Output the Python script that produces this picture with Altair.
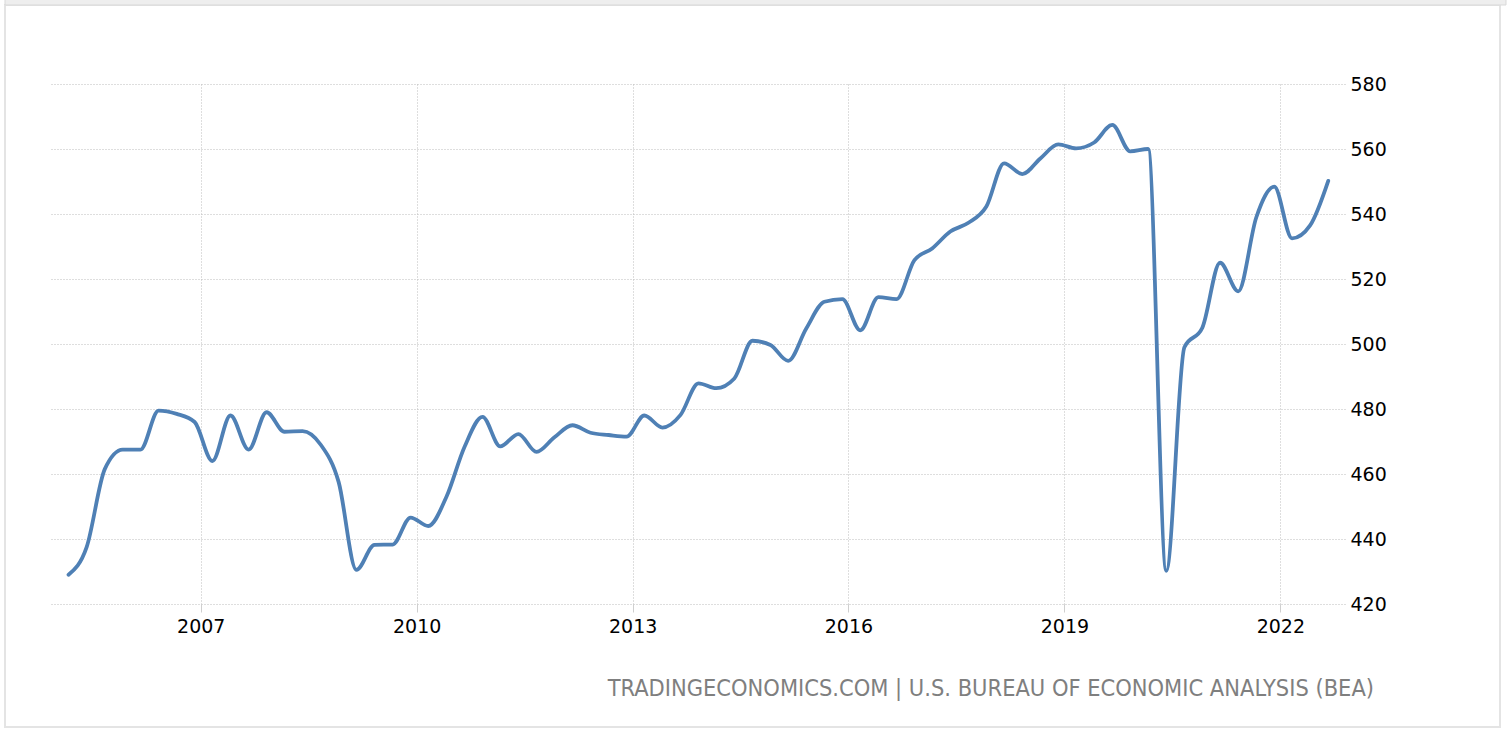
import altair as alt
import pandas as pd

# Quarterly observations, 2005 Q1 .. 2022 Q3
years = [y for y in range(2005, 2023) for _ in range(4)][:71]
months = [3, 6, 9, 12] * 18
months = months[:71]
values = [
    429.0, 437.5, 461.5, 467.5,   # 2005
    467.5, 479.5, 478.5, 476.0,   # 2006
    464.0, 478.0, 467.5, 479.0,   # 2007
    473.0, 473.2, 469.0, 457.5,   # 2008
    430.5, 438.2, 438.3, 446.6,   # 2009
    444.0, 453.0, 468.4, 477.6,   # 2010
    468.5, 472.3, 466.8, 471.3,   # 2011
    475.0, 472.7, 472.0, 471.5,   # 2012
    478.0, 474.3, 478.2, 487.9,   # 2013
    486.4, 489.4, 501.0, 499.7,   # 2014
    494.8, 504.8, 513.0, 513.8,   # 2015
    504.2, 514.4, 513.8, 525.8,   # 2016
    529.4, 534.6, 537.3, 542.3,   # 2017
    555.6, 552.3, 557.1, 561.4,   # 2018
    560.2, 562.0, 567.4, 559.3,   # 2019
    560.0, 430.2, 499.0, 505.0,   # 2020
    525.0, 516.2, 539.0, 548.4,   # 2021
    532.5, 536.5, 550.2,          # 2022
]
dates = [f"{y}-{m:02d}-01" for y, m in zip(years, months)]

tick_years = [2007, 2010, 2013, 2016, 2019, 2022]
y_ticks = [420, 440, 460, 480, 500, 520, 540, 560, 580]
source_text = "TRADINGECONOMICS.COM | U.S. BUREAU OF ECONOMIC ANALYSIS (BEA)"

df = pd.DataFrame({"date": dates, "value": values})

W, H = 1295, 520
PAD_L, PAD_T = 50, 84
GRID = "#bdbdbd"

line = alt.Chart(df).mark_line(
    interpolate="monotone", color="#4f80b5", strokeWidth=3.8,
    strokeCap="round", strokeJoin="round"
).encode(
    x=alt.X(
        "date:T",
        scale=alt.Scale(
            type="utc",
            domain=[alt.DateTime(year=2004, month=11, date=27, utc=True),
                    alt.DateTime(year=2022, month=11, date=25, utc=True)],
        ),
        axis=alt.Axis(
            values=[alt.DateTime(year=y, month=1, date=1, utc=True) for y in tick_years],
            format="%Y", title=None, domain=False,
            grid=True, gridColor=GRID, gridDash=[1, 2], gridWidth=1,
            ticks=True, tickSize=8, tickColor="#cfcfcf", tickWidth=1,
            labelFont="DejaVu Sans", labelFontSize=19, labelColor="#000000",
            labelPadding=5, labelFlush=False,
        ),
    ),
    y=alt.Y(
        "value:Q",
        scale=alt.Scale(domain=[420, 580], nice=False, zero=False),
        axis=alt.Axis(
            orient="right", values=y_ticks, title=None, domain=False,
            grid=True, gridColor=GRID, gridDash=[1, 2], gridWidth=1,
            ticks=False, labelFont="DejaVu Sans", labelFontSize=19,
            labelColor="#000000", labelPadding=5, labelAlign="left",
            labelBaseline="middle", labelFlush=False,
        ),
    ),
)

src = alt.Chart(pd.DataFrame({"t": [source_text]})).mark_text(
    align="right", baseline="middle", font="DejaVu Sans Condensed",
    fontSize=23.4, color="#7f7f7f"
).encode(
    text="t:N",
    x=alt.value(1374 - PAD_L),
    y=alt.value(689 - PAD_T),
)

frame = alt.Chart(pd.DataFrame({"k": [0]})).mark_rect(
    fill=None, stroke="#e4e4e4", strokeWidth=2
).encode(
    x=alt.value(5 - PAD_L), x2=alt.value(1500 - PAD_L),
    y=alt.value(5 - PAD_T), y2=alt.value(727 - PAD_T),
)

topbar = alt.Chart(pd.DataFrame({"k": [0]})).mark_rect(
    fill="#eeeeee", stroke="#d9d9d9", strokeWidth=1
).encode(
    x=alt.value(5 - PAD_L), x2=alt.value(1506 - PAD_L),
    y=alt.value(-2 - PAD_T), y2=alt.value(5 - PAD_T),
)

chart = alt.layer(frame, topbar, line, src).properties(
    width=W, height=H,
    autosize=alt.AutoSizeParams(type="none"),
    padding={"left": PAD_L, "top": PAD_T, "right": 1508 - PAD_L - W, "bottom": 732 - PAD_T - H},
    background="#ffffff",
).configure_view(stroke=None)

chart.save("out.html", embed_options={"renderer": "svg", "actions": False})
